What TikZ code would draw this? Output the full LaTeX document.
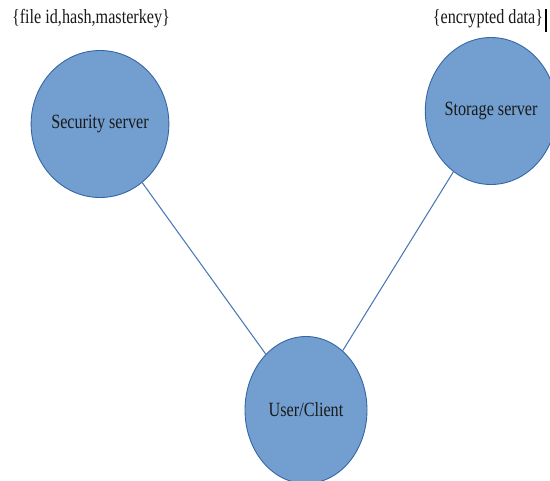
\documentclass[tikz,border=0pt]{standalone}
\usepackage{fontspec}
\setmainfont{Liberation Serif}[FakeStretch=0.8]
\usetikzlibrary{positioning, shapes.geometric}
\definecolor{cfill}{HTML}{729FCF}
\definecolor{cedge}{HTML}{3465A4}
\definecolor{cline}{HTML}{4A78B4}
\definecolor{ctext}{HTML}{1A1A1A}
\tikzset{
  every picture/.style={line width=0.5pt},
  server/.style={ellipse, draw=cedge, fill=cfill, minimum width=2.44cm, minimum height=2.94cm, inner sep=0pt, font=\fontsize{11.5}{13}\selectfont, text=ctext},
  link/.style={draw=cline, line width=0.6pt},
  label/.style={font=\fontsize{11.5}{13}\selectfont, text=ctext, inner sep=0pt},
}
\begin{document}
\begin{tikzpicture}
  \useasboundingbox (0,0) rectangle (11,9.6);
  \clip (0,0) rectangle (11,9.6);
  \fill[white] (0,0) rectangle (11,9.6);
  % the three parties
  \node[server] (sec) at (2.0,7.12) {Security server};
  \node[server] (store) at (9.82,7.38) {Storage server};
  \node[server] (user) at (6.12,1.4) {User/Client};
  % what each server keeps
  \node[label] (keys) at (1.82,9.22) {\{file id,hash,masterkey\}};
  \node[label] (data) at (9.76,9.22) {\{encrypted data\}};
  \draw[black, line width=1.2pt] ([xshift=1.5pt]data.north east) -- ([xshift=1.5pt,yshift=-2pt]data.south east);
  % connections
  \draw[link] (sec) -- (user);
  \draw[link] (store) -- (user);
\end{tikzpicture}
\end{document}
